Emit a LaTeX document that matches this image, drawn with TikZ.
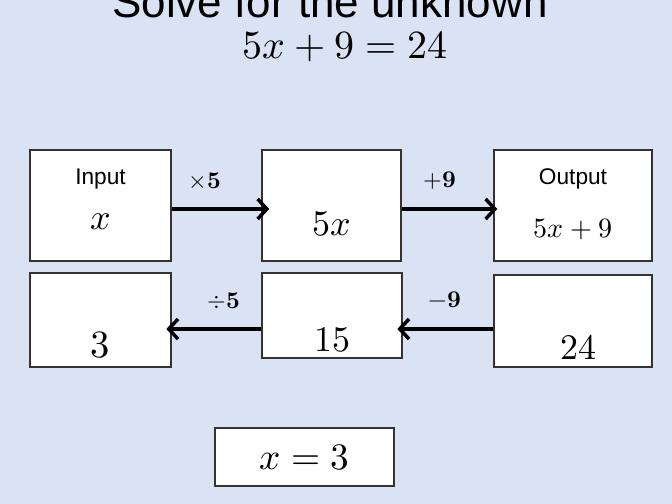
\documentclass[tikz,border=0pt]{standalone}
\usepackage{fontspec}
\usepackage{unicode-math}
\setmathfont{Latin Modern Math}
\setsansfont{Liberation Sans}
\usetikzlibrary{arrows.meta}
\tikzset{every picture/.style={line width=0.75pt}}
\tikzset{
  box/.style={draw=black!80,fill=white,line width=1pt,inner sep=0pt},
  flow/.style={line width=3pt,-{Straight Barb[length=7pt,width=15pt,line width=2.6pt]}},
  lbl/.style={inner sep=0.75pt,font=\fontsize{18}{21}\selectfont}
}
\begin{document}
\begin{tikzpicture}[x=0.75pt,y=0.75pt,yscale=-1,xscale=1]
\useasboundingbox[fill={rgb,255:red,218;green,227;blue,243}] (0,0) rectangle (672,504);

% Title
\node (title) at (330,2) [inner sep=0pt,font=\sffamily\fontsize{33}{36}\selectfont] {Solve for the unknown};
\node (eqn) at (345,47) [inner sep=0pt,font=\fontsize{30}{33}\selectfont] {$5x+9=24$};

% Forward boxes
\node (inp) at (100.5,205.5) [box,minimum width=105.75pt,minimum height=83.25pt] {};
\node (mul) at (331.5,205.5) [box,minimum width=104.25pt,minimum height=83.25pt] {};
\node (out) at (573,205.5) [box,minimum width=118.5pt,minimum height=83.25pt] {};
% Backward boxes
\node (res) at (100.5,320) [box,minimum width=105.75pt,minimum height=70.5pt] {};
\node (mid) at (332,315.5) [box,minimum width=105pt,minimum height=63.75pt] {};
\node (tot) at (573,321) [box,minimum width=118.5pt,minimum height=69pt] {};
% Answer box
\node (ans) at (304.5,457) [box,minimum width=134.25pt,minimum height=43.5pt] {};

% Text Node
\node (tin) at (100.5,179) [inner sep=0pt,font=\sffamily\fontsize{17}{19}\selectfont] {Input};
\node (tx) at (100.5,222) [inner sep=0pt,font=\fontsize{27}{30}\selectfont] {$x$};
\node (t5x) at (331.5,224) [inner sep=0pt,font=\fontsize{27}{30}\selectfont] {$5x$};
\node (tout) at (573,179) [inner sep=0pt,font=\sffamily\fontsize{17}{19}\selectfont] {Output};
\node (t5x9) at (573,229) [inner sep=0pt,font=\fontsize{21}{24}\selectfont] {$5x+9$};
\node (t3) at (100.5,345) [inner sep=0pt,font=\fontsize{29}{32}\selectfont] {$3$};
\node (t15) at (332,340) [inner sep=0pt,font=\fontsize{27}{30}\selectfont] {$15$};
\node (t24) at (578,347) [inner sep=0pt,font=\fontsize{27}{30}\selectfont] {$24$};
\node (tans) at (304.5,457) [inner sep=0pt,font=\fontsize{28}{31}\selectfont] {$x=3$};

% Connectors
\coordinate (m1) at (mul.west |- 0,209);
\draw [flow] (inp.east |- m1) -- ([xshift=6]m1);
\coordinate (m2) at (out.west |- 0,209);
\draw [flow] (mul.east |- m2) -- ([xshift=3]m2);
\draw [flow] (mid.west |- 0,329) -- ([xshift=-4]res.east |- 0,329);
\draw [flow] (tot.west |- 0,329) -- ([xshift=-4]mid.east |- 0,329);

% Operation labels
\node (op1) at (205,181) [lbl] {$\times\symbf{5}$};
\node (op2) at (440,181) [lbl] {$\symbf{+9}$};
\node (op3) at (224,301) [lbl] {$\div\symbf{5}$};
\node (op4) at (445,300) [lbl] {$\symbf{-9}$};

\end{tikzpicture}
\end{document}
